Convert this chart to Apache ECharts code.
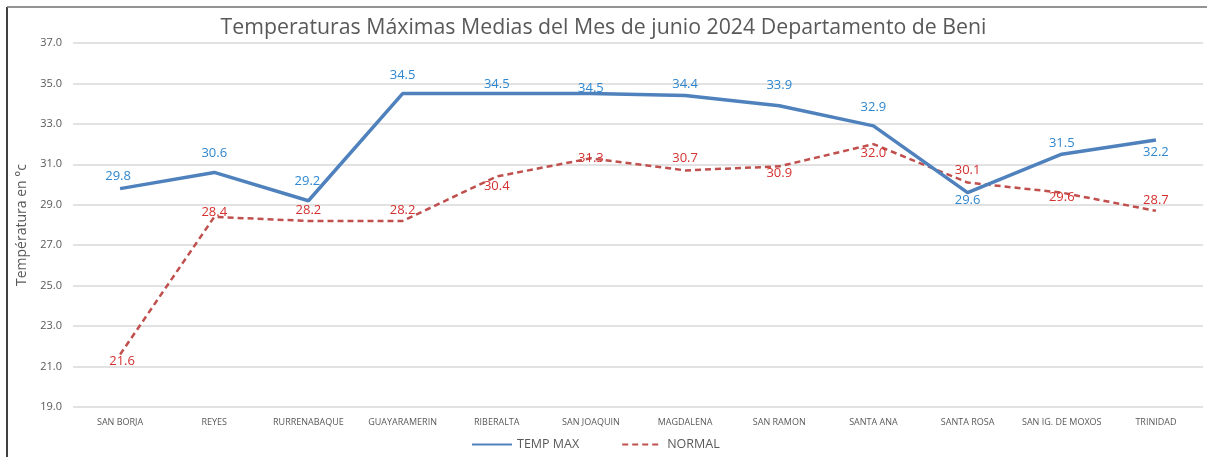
<!DOCTYPE html>
<html><head><meta charset="utf-8">
<script src="https://cdn.jsdelivr.net/npm/echarts@6/dist/echarts.min.js"></script>
<style>html,body{margin:0;padding:0;background:#fff;}#c{width:1207px;height:457px;}</style>
</head><body><div id="c"></div>
<script>
const categories = ['SAN BORJA','REYES','RURRENABAQUE','GUAYARAMERIN','RIBERALTA','SAN JOAQUIN','MAGDALENA','SAN RAMON','SANTA ANA','SANTA ROSA','SAN IG. DE MOXOS','TRINIDAD'];
const tempMax = [29.8,30.6,29.2,34.5,34.5,34.5,34.4,33.9,32.9,29.6,31.5,32.2];
const normal = [21.6,28.4,28.2,28.2,30.4,31.3,30.7,30.9,32.0,30.1,29.6,28.7];
const yTicks = {min:19, max:37, step:2};

// label placement (style only): offset of each label from its point
const maxLabelDy = [-12,-19,-19,-18,-9,-5,-11,-20,-19,8,-11,12];
const maxLabelDx = [-2,0,-1,0,0,0,0,0,0,0,0,0];
const normLabelDy = [7,-5,-11,-11,10,0,-12,7,9,-12,5,-11];
const normLabelDx = [2,0,0,0,0,0,0,0,0,0,0,0];

function mk(vals, dy, dx){
  return vals.map((v,i)=>({value:v,label:{offset:[dx[i],dy[i]]}}));
}
const chart = echarts.init(document.getElementById('c'));
const font = 'Open Sans, Noto Sans, sans-serif';
chart.setOption({
  animation:false,
  title:{text:'Temperaturas Máximas Medias del Mes de junio 2024 Departamento de Beni',left:'center',top:12,
    textStyle:{fontFamily:font,fontSize:21.3,fontWeight:'normal',color:'#595959'}},
  grid:{left:73,right:4,top:43,bottom:50},
  graphic:[
    {type:'line',shape:{x1:7,y1:7,x2:7,y2:457},style:{stroke:'#000',lineWidth:1.5}},
    {type:'line',shape:{x1:7,y1:7,x2:1207,y2:7},style:{stroke:'#6f6f6f',lineWidth:1.5}}
  ],
  legend:{left:466,top:433,itemWidth:40,itemHeight:12,itemGap:42,
    itemStyle:{opacity:0},
    textStyle:{fontFamily:font,fontSize:12.5,color:'#595959'},
    data:['TEMP MAX','NORMAL']},
  xAxis:{type:'category',data:categories,boundaryGap:true,
    axisLine:{show:false},axisTick:{show:false},
    axisLabel:{fontFamily:font,fontSize:9,color:'#595959',margin:11,interval:0}},
  yAxis:{type:'value',min:yTicks.min,max:yTicks.max,interval:yTicks.step,
    name:'Températura en °c',nameLocation:'middle',nameGap:43,
    nameTextStyle:{fontFamily:font,fontSize:14,color:'#595959'},
    axisLine:{show:false},axisTick:{show:false},
    axisLabel:{fontFamily:font,fontSize:11,color:'#595959',margin:11,formatter:v=>v.toFixed(1)},
    splitLine:{lineStyle:{color:'#d9d9d9',width:1.5}}},
  series:[
    {name:'TEMP MAX',type:'line',data:mk(tempMax,maxLabelDy,maxLabelDx),
      symbol:'circle',symbolSize:0,z:3,
      lineStyle:{color:'#4f81bd',width:3.5},itemStyle:{color:'#4f81bd'},
      label:{show:true,position:'inside',fontFamily:font,fontSize:13,color:'#2f87cf',formatter:p=>p.value.toFixed(1)}},
    {name:'NORMAL',type:'line',data:mk(normal,normLabelDy,normLabelDx),
      symbol:'circle',symbolSize:0,z:2,
      lineStyle:{color:'#c0504d',width:2.5,type:[6,4]},itemStyle:{color:'#c0504d'},
      label:{show:true,position:'inside',fontFamily:font,fontSize:13,color:'#d4302f',formatter:p=>p.value.toFixed(1)}}
  ]
});
</script></body></html>
